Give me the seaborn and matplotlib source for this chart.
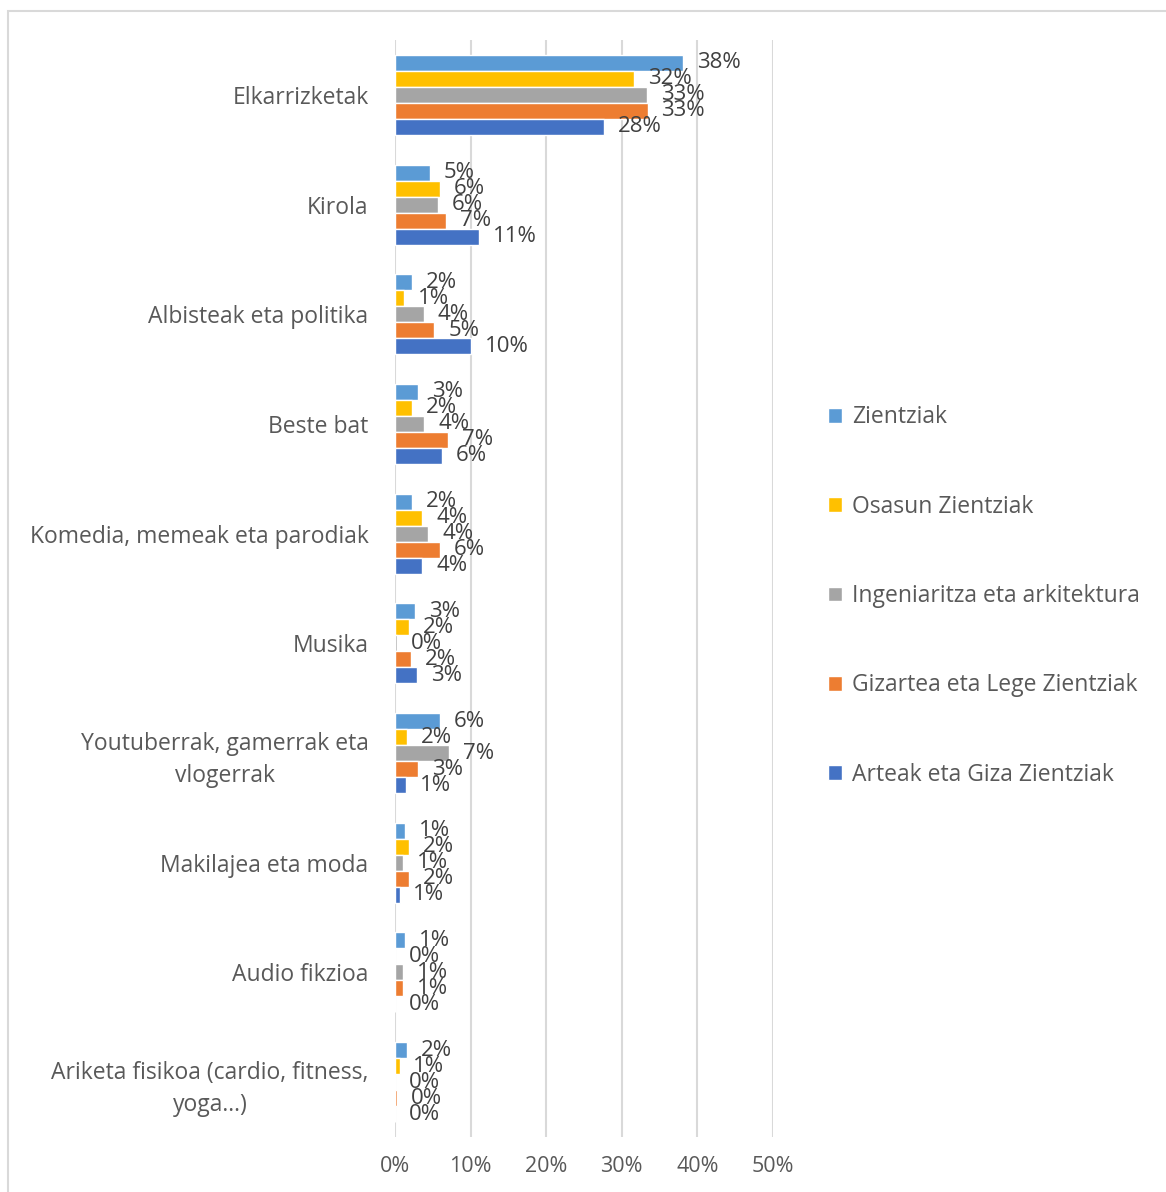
import pandas as pd
import matplotlib.pyplot as plt
import seaborn as sns
from matplotlib.patches import Rectangle

# categories, top to bottom
categories = [
    "Elkarrizketak",
    "Kirola",
    "Albisteak eta politika",
    "Beste bat",
    "Komedia, memeak eta parodiak",
    "Musika",
    "Youtuberrak, gamerrak eta\nvlogerrak",
    "Makilajea eta moda",
    "Audio fikzioa",
    "Ariketa fisikoa (cardio, fitness,\nyoga...)",
]

series = [
    "Zientziak",
    "Osasun Zientziak",
    "Ingeniaritza eta arkitektura",
    "Gizartea eta Lege Zientziak",
    "Arteak eta Giza Zientziak",
]

# percentages
zientziak = [38.1, 4.6, 2.2, 3.1, 2.2, 2.7, 5.9, 1.3, 1.3, 1.6]
osasun = [31.6, 6.0, 1.25, 2.2, 3.6, 1.9, 1.6, 1.8, 0.0, 0.6]
ingeniaritza = [33.3, 5.7, 3.8, 3.9, 4.4, 0.2, 7.2, 1.1, 1.0, 0.0]
gizartea = [33.4, 6.8, 5.2, 7.0, 6.0, 2.1, 3.1, 1.9, 1.0, 0.3]
arteak = [27.6, 11.1, 10.0, 6.2, 3.6, 2.9, 1.4, 0.6, 0.0, 0.0]

colors = ["#5B9BD5", "#FFC000", "#A5A5A5", "#ED7D31", "#4472C4"]

values = [zientziak, osasun, ingeniaritza, gizartea, arteak]
df = pd.DataFrame(
    [(c, s, v) for s, vals in zip(series, values) for c, v in zip(categories, vals)],
    columns=["category", "series", "value"],
)

sns.set_style("white")
plt.rcParams["font.family"] = ["Open Sans", "DejaVu Sans"]

W, H = 1166, 1192
fig = plt.figure(figsize=(W / 100, H / 100), dpi=100)
ax = fig.add_axes([395 / W, 1 - 1137 / H, (773 - 395) / W, (1137 - 40) / H])

sns.barplot(
    data=df, y="category", x="value", hue="series",
    order=categories, hue_order=series, palette=colors,
    orient="h", width=0.73, saturation=1, ax=ax, legend=True,
)

for cont, vals in zip(ax.containers, values):
    ax.bar_label(cont, labels=[f"{round(v)}%" for v in vals],
                 padding=10, fontsize=16, color="#404040")

ax.set_xlim(0, 50)
ax.set_xticks([0, 10, 20, 30, 40, 50])
ax.set_xticklabels([f"{t}%" for t in range(0, 60, 10)])
ax.grid(axis="x", color="#D9D9D9", linewidth=1.5)
ax.set_axisbelow(True)
for sp in ax.spines.values():
    sp.set_visible(False)
ax.set_xlabel("")
ax.set_ylabel("")
ax.tick_params(axis="x", length=0, pad=14, labelsize=15.5, labelcolor="#595959")
ax.tick_params(axis="y", length=0, pad=19, labelsize=16.5, labelcolor="#595959")
for t in ax.get_yticklabels():
    t.set_multialignment("center")
    t.set_linespacing(1.45)

handles, labels = ax.get_legend_handles_labels()
ax.get_legend().remove()
fig.legend(
    handles, labels, loc="center left", bbox_to_anchor=(828 / W, 1 - 596 / H),
    frameon=False, fontsize=16.5, labelcolor="#595959",
    handlelength=0.6, handleheight=0.6, handletextpad=0.45,
    labelspacing=2.85, borderpad=0, borderaxespad=0,
)

# chart border
fig.patches.append(Rectangle((8 / W, -0.1), 1.2, 1 - 11 / H + 0.1,
                             transform=fig.transFigure, fill=False,
                             edgecolor="#D9D9D9", linewidth=1.5))

fig.savefig("out.png", dpi=100)
